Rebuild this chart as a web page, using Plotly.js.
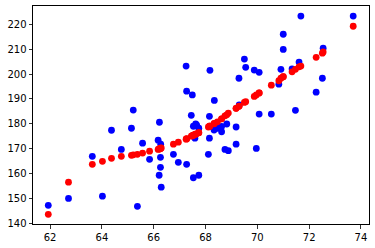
<!DOCTYPE html>
<html>
<head>
<meta charset="utf-8">
<script src="https://cdn.plot.ly/plotly-3.0.1.min.js"></script>
<style>html,body{margin:0;padding:0;background:#fff;}#chart{width:375px;height:248px;}</style>
</head>
<body>
<div id="chart"></div>
<script>
const xValues = [61.93,62.71,63.63,64.02,64.37,64.75,65.14,65.21,65.37,65.57,65.84,66.17,66.22,66.27,66.26,66.26,66.21,66.29,66.76,66.95,67.25,67.27,67.27,67.45,67.49,67.53,67.53,67.59,67.62,67.66,67.74,67.74,68.11,68.15,68.15,68.17,68.34,68.33,68.46,68.62,68.62,68.82,68.75,68.88,69.18,69.18,69.29,69.3,69.5,69.55,69.88,69.96,70.07,70.07,70.54,70.83,70.91,71.0,71.0,71.34,71.47,71.61,71.68,72.27,72.51,72.54,73.7];
const actualValues = [147.2,150.0,166.9,150.9,177.4,169.7,178.2,185.5,146.8,172.2,165.7,173.4,180.6,171.8,166.5,162.5,159.3,154.5,167.7,164.5,203.2,193.1,163.7,183.4,191.6,179.0,158.3,174.2,179.9,179.4,178.2,159.3,167.7,183.0,174.2,201.5,189.4,177.5,178.2,176.8,178.9,179.9,169.7,169.2,171.8,178.7,198.3,187.6,206.0,202.7,201.6,170.1,200.7,183.9,183.9,195.9,201.9,216.0,209.9,202.1,185.4,204.8,223.3,192.7,198.3,210.4,223.3];
const predictedValues = [143.6,156.5,163.7,164.9,166.1,166.9,167.3,167.5,167.7,168.2,169.0,169.7,169.9,170.2,170.1,170.1,169.9,170.3,171.8,172.6,173.8,173.9,174.0,175.0,175.2,175.4,175.4,175.7,175.8,176.0,176.4,176.4,178.7,178.9,178.9,179.1,180.1,180.0,180.8,182.0,182.0,183.6,183.2,184.3,186.2,186.2,187.0,187.1,188.6,188.9,191.0,191.6,192.4,192.4,195.5,197.3,198.3,198.9,198.9,200.9,201.9,202.9,203.2,206.7,208.4,208.9,219.2];
const xTicks = [62,64,66,68,70,72,74];
const yTicks = [140,150,160,170,180,190,200,210,220];

const traces = [
  {x: xValues, y: actualValues, type: 'scatter', mode: 'markers',
   marker: {color: '#0000ff', size: 6.8}, hoverinfo: 'skip'},
  {x: xValues, y: predictedValues, type: 'scatter', mode: 'markers',
   marker: {color: '#ff0000', size: 6.8}, hoverinfo: 'skip'}
];
const axisCommon = {
  showgrid: false, zeroline: false, showline: true, mirror: true,
  linecolor: '#000', linewidth: 1, ticks: 'outside', ticklen: 3.5,
  tickwidth: 0.8, tickcolor: '#000',
  tickfont: {family: 'DejaVu Sans', size: 10, color: '#000'}
};
const layout = {
  width: 375, height: 248,
  margin: {l: 33, r: 6, t: 6, b: 24},
  paper_bgcolor: '#fff', plot_bgcolor: '#fff',
  showlegend: false,
  xaxis: Object.assign({}, axisCommon, {range: [61.34, 74.31], tickvals: xTicks, ticktext: xTicks.map(String)}),
  yaxis: Object.assign({}, axisCommon, {range: [139.7, 227.35], tickvals: yTicks, ticktext: yTicks.map(String)})
};
Plotly.newPlot('chart', traces, layout, {staticPlot: true, displayModeBar: false});
</script>
</body>
</html>
